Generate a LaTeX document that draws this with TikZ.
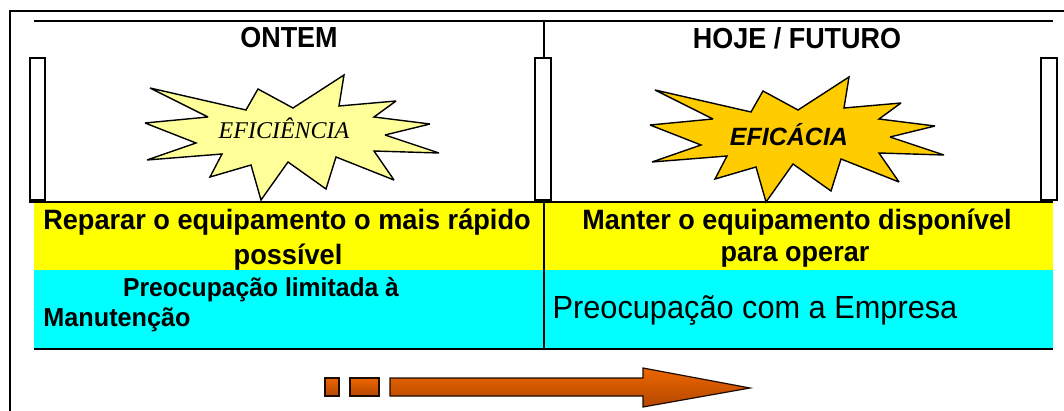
\documentclass[tikz,border=0pt]{standalone}
\usepackage{graphicx}
\usepackage{fontspec}
\setmainfont{Liberation Sans}
\newfontfamily\serifit{Liberation Serif}
\definecolor{paleburst}{HTML}{FFFF99}
\definecolor{goldburst}{HTML}{FFCC00}
\definecolor{arrowtop}{HTML}{EE6600}
\definecolor{arrowbottom}{HTML}{B34700}
\definecolor{bandyellow}{HTML}{FFFF00}
\definecolor{bandcyan}{HTML}{00FFFF}
\newcommand{\burstpath}{(150,88) -- (246,110) -- (258,89) -- (293,108) -- (344,75) -- (339,106) -- (396,101) -- (374,117) -- (430,124) -- (385,135) -- (439,153) -- (374,151) -- (394,180) -- (336,157) -- (326,189) -- (288,162) -- (261,200) -- (251,165) -- (210,177) -- (222,154) -- (147,160) -- (196,143) -- (145,123) -- (208,117) -- cycle}
\tikzset{
	boldlabel/.style={font=\fontsize{28}{30}\selectfont\bfseries, inner sep=0pt},
	thinlabel/.style={font=\fontsize{32}{34}\selectfont, inner sep=0pt},
	post/.style={draw=black, line width=1.4pt, fill=white},
	rule/.style={draw=black, line width=1.6pt},
	burst/.style={draw=black, line width=1.4pt, line join=miter, miter limit=3},
	arrowpart/.style={draw=black!85!arrowbottom, line width=1.2pt, top color=arrowtop, bottom color=arrowbottom}
}
\begin{document}
\begin{tikzpicture}[x=1pt, y=-1pt]
	\useasboundingbox (0,0) rectangle (1064,411);
	\fill[white] (0,0) rectangle (1064,411);
	% outer frame
	\draw[rule] (10,411) -- (10,11) -- (1064,11);
	% bands
	\fill[bandyellow] (34,202) rectangle (1053,270);
	\fill[bandcyan] (34,270) rectangle (1053,349);
	\draw[rule] (34,21) -- (1053,21);
	\draw[rule] (29,202) -- (1053,202);
	\draw[rule] (34,349) -- (1053,349);
	\draw[draw=black, line width=1.2pt] (544,21) -- (544,349);
	% posts
	\draw[post] (30,58) rectangle (45,200);
	\draw[post] (535,58) rectangle (551,200);
	\draw[post] (1041,58) rectangle (1057,200);
	% bursts
	\draw[burst, fill=paleburst] \burstpath;
	\draw[burst, fill=goldburst, shift={(505,2)}] \burstpath;
	% headers
	\node[boldlabel, font=\fontsize{29}{30}\selectfont\bfseries] (ontem) at (289,38) {\scalebox{.93}[1]{ONTEM}};
	\node[boldlabel, font=\fontsize{29}{30}\selectfont\bfseries] (hoje) at (797,38) {\scalebox{.93}[1]{HOJE / FUTURO}};
	\node[inner sep=0pt, font=\fontsize{24}{26}\selectfont\serifit\itshape] (eficiencia) at (284,128) {EFICIÊNCIA};
	\node[inner sep=0pt, font=\fontsize{25}{27}\selectfont\bfseries\itshape] (eficacia) at (789,135) {\scalebox{1}[1]{EFICÁCIA}};
	% yellow row
	\node[boldlabel] (reparar) at (287,222) {\scalebox{.97}[1]{Reparar o equipamento o mais rápido}};
	\node[boldlabel] (possivel) at (288,257) {\scalebox{.97}[1]{possível}};
	\node[boldlabel] (manter) at (797,222) {\scalebox{.965}[1]{Manter o equipamento disponível}};
	\node[boldlabel] (operar) at (795,257) {\scalebox{.965}[1]{para operar}};
	% cyan row
	\node[boldlabel, font=\fontsize{26}{28}\selectfont\bfseries] (limitada) at (261,290) {\scalebox{.95}[1]{Preocupação limitada à}};
	\node[boldlabel, font=\fontsize{26}{28}\selectfont\bfseries] (manutencao) at (117,320) {\scalebox{.97}[1]{Manutenção}};
	\node[thinlabel] (empresa) at (755,310) {\scalebox{.96}[1]{Preocupação com a Empresa}};
	% arrow
	\draw[arrowpart] (325,378) rectangle (339,396);
	\draw[arrowpart] (350,378) rectangle (379,396);
	\draw[arrowpart] (390,378) -- (643,378) -- (643,368) -- (750,388) -- (643,407) -- (643,396) -- (390,396) -- cycle;
\end{tikzpicture}
\end{document}
